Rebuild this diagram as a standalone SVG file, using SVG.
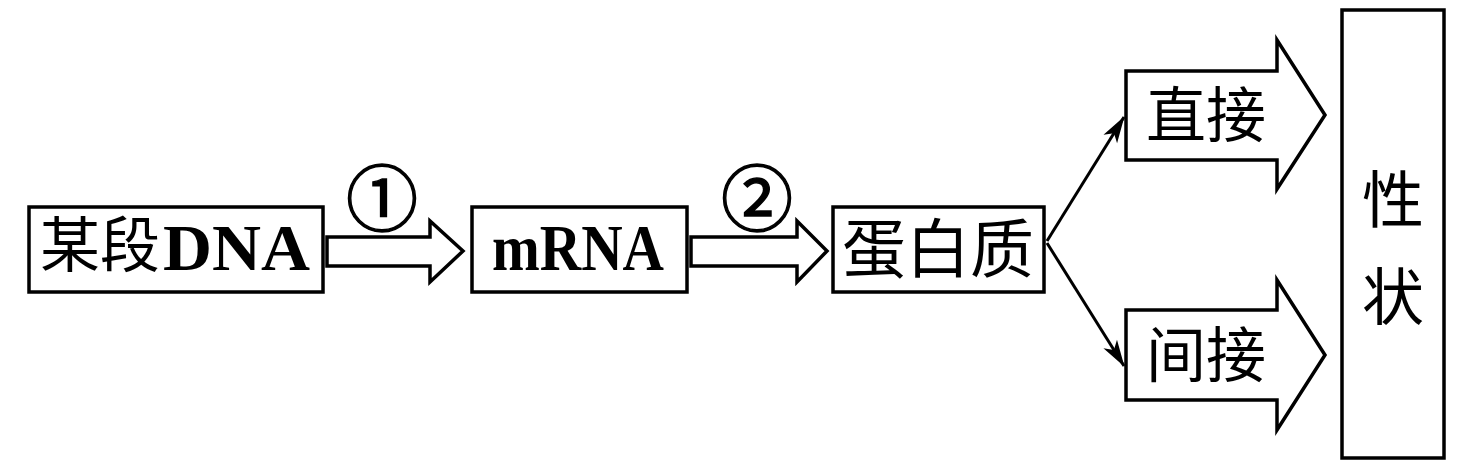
<svg xmlns="http://www.w3.org/2000/svg" width="1465" height="468" viewBox="0 0 1465 468">
<style>
.box{fill:#fff;stroke:#000;stroke-width:3.5}
.hollow{fill:#fff;stroke:#000;stroke-width:3.5;stroke-linejoin:miter}
.line{fill:none;stroke:#000;stroke-width:3}
.cjk{font-family:"Noto Sans CJK SC","Noto Sans CJK JP",sans-serif;font-size:60px;fill:#000}
.lat{font-family:"Liberation Serif","Times New Roman",serif;font-weight:bold;font-size:66px;fill:#000}
.num{font-family:"Noto Sans CJK SC",sans-serif;font-size:72px;fill:#000;stroke:#000;stroke-width:1.4}
</style>
<defs>
<marker id="ah" markerUnits="userSpaceOnUse" viewBox="-30 -10 32 20" refX="0" refY="0" markerWidth="32" markerHeight="20" orient="auto">
<path d="M1,0 L-26,-8 L-19,0 L-26,8 Z" fill="#000"/>
</marker>
</defs>
<rect width="1465" height="468" fill="#fff"/>
<g id="connectors">
<polygon class="hollow" points="327,237 430,237 430,221 463,251 430,282 430,266 327,266"/>
<polygon class="hollow" points="691,237 797,237 797,221 827,251 797,282 797,266 691,266"/>
<line class="line" x1="1047" y1="241" x2="1124" y2="117" marker-end="url(#ah)"/>
<line class="line" x1="1047" y1="243" x2="1124" y2="366" marker-end="url(#ah)"/>
</g>
<g id="n-dna">
<rect class="box" x="29" y="207" width="294" height="85"/>
<text><tspan class="cjk" x="40" y="267">某段</tspan><tspan class="lat" x="163" y="270" textLength="147" lengthAdjust="spacingAndGlyphs">DNA</tspan></text>
</g>
<g id="l-1">
<text class="num" x="382" y="225" text-anchor="middle">①</text>
</g>
<g id="n-mrna">
<rect class="box" x="472" y="207" width="215" height="85"/>
<text class="lat" x="492" y="270" textLength="172" lengthAdjust="spacingAndGlyphs">mRNA</text>
</g>
<g id="l-2">
<text class="num" x="757" y="225" text-anchor="middle">②</text>
</g>
<g id="n-protein">
<rect class="box" x="833" y="207" width="211" height="85"/>
<text class="cjk" x="842" y="272" style="font-size:64px">蛋白质</text>
</g>
<g id="n-direct">
<polygon class="hollow" points="1126,71 1277,71 1277,40 1325,115 1277,189 1277,160 1126,160"/>
<text class="cjk" x="1146" y="137">直接</text>
</g>
<g id="n-indirect">
<polygon class="hollow" points="1126,310 1277,310 1277,280 1325,355 1277,430 1277,400 1126,400"/>
<text class="cjk" x="1146" y="377">间接</text>
</g>
<g id="n-trait">
<rect class="box" x="1342" y="10" width="102" height="448"/>
<text class="cjk" x="1393" y="223" text-anchor="middle" style="font-size:62px">性</text>
<text class="cjk" x="1393" y="320" text-anchor="middle" style="font-size:62px">状</text>
</g>
</svg>
